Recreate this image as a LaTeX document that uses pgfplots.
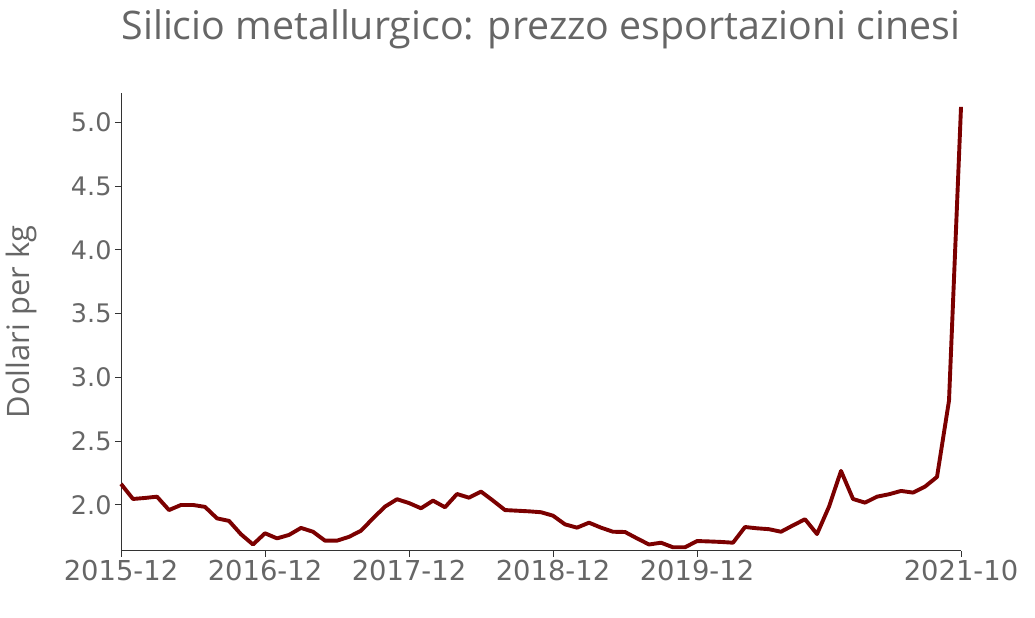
\documentclass[border=0pt]{standalone}
\usepackage{fontspec}
\setmainfont{Open Sans}
\newfontfamily\dejavu{DejaVu Sans}
\usepackage{pgfplots}
\pgfplotsset{compat=1.18}
\definecolor{txt}{HTML}{666666}
\definecolor{lin}{HTML}{7B0000}
\begin{document}
\begin{tikzpicture}[x=1bp,y=1bp]
\useasboundingbox (0,0) rectangle (1035,618);
\begin{axis}[
  at={(121bp,67bp)}, anchor=south west,
  scale only axis, width=840bp, height=458bp,
  xmin=0, xmax=70, ymin=1.639, ymax=5.231,
  axis lines=left, axis line style={-, black!80, line width=1bp},
  xtick={0,12,24,36,48,70},
  xticklabels={2015-12,2016-12,2017-12,2018-12,2019-12,2021-10},
  ytick={2,2.5,3,3.5,4,4.5,5},
  yticklabel style={/pgf/number format/fixed, /pgf/number format/fixed zerofill, /pgf/number format/precision=1},
  /pgf/number format/assume math mode=true,
  tick align=outside, major tick length=6bp,
  tick style={black!80, line width=1bp},
  yticklabel style={text=txt, font=\dejavu\fontsize{25.6}{30}\selectfont},
  xticklabel style={text=txt, font=\dejavu\fontsize{27.5}{32}\selectfont},
  ylabel={Dollari per kg},
  ylabel style={at={(axis description cs:-0.1179,0.5)}, anchor=center, text=txt, font=\fontsize{31}{36}\selectfont},
  title={Silicio metallurgico: prezzo esportazioni cinesi},
  title style={at={(axis description cs:0.5,1)}, anchor=base, yshift=47.8bp, text=txt, font=\fontsize{39.5}{46}\selectfont},
  clip=false,
]
\addplot[lin, line width=3.9bp, line join=round] coordinates {
(0,2.165) (1,2.047) (2,2.055) (3,2.065) (4,1.96) (5,2.0) (6,2.0) (7,1.985)
(8,1.895) (9,1.875) (10,1.77) (11,1.69) (12,1.778) (13,1.738) (14,1.765) (15,1.82)
(16,1.79) (17,1.72) (18,1.72) (19,1.75) (20,1.798) (21,1.895) (22,1.987) (23,2.045)
(24,2.015) (25,1.974) (26,2.034) (27,1.982) (28,2.086) (29,2.057) (30,2.105) (31,2.034)
(32,1.96) (33,1.955) (34,1.95) (35,1.943) (36,1.916) (37,1.848) (38,1.822) (39,1.861)
(40,1.822) (41,1.79) (42,1.788) (43,1.738) (44,1.69) (45,1.704) (46,1.668) (47,1.668)
(48,1.717) (49,1.714) (50,1.71) (51,1.704) (52,1.827) (53,1.817) (54,1.81) (55,1.79)
(56,1.84) (57,1.888) (58,1.772) (59,1.987) (60,2.267) (61,2.047) (62,2.018) (63,2.065)
(64,2.084) (65,2.11) (66,2.097) (67,2.144) (68,2.22) (69,2.819) (70,5.122)
};
\end{axis}
\end{tikzpicture}
\end{document}
